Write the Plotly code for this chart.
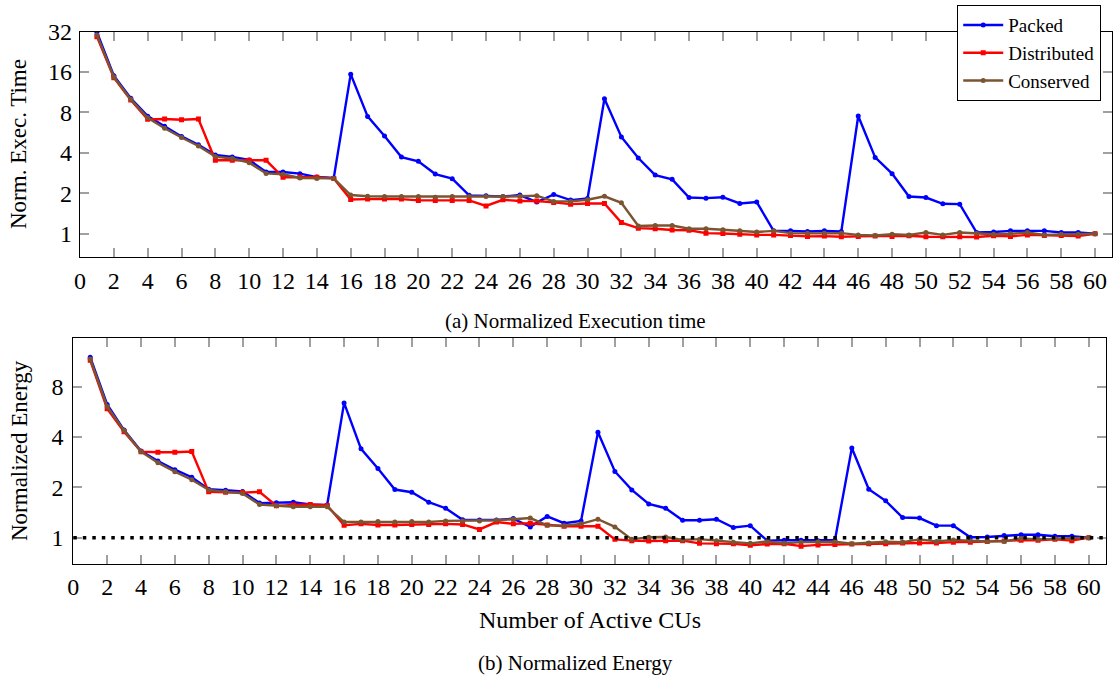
import plotly.graph_objects as go

# Number of active CUs
cus = list(range(1, 61))

# Normalized execution time
time_packed = [31.6, 15.0, 10.2, 7.5, 6.3, 5.3, 4.6, 3.85, 3.72, 3.54,
               2.88, 2.88, 2.80, 2.64, 2.60, 15.4, 7.47, 5.34, 3.72, 3.46,
               2.78, 2.57, 1.93, 1.92, 1.89, 1.94, 1.72, 1.96, 1.78, 1.83,
               10.1, 5.25, 3.66, 2.73, 2.54, 1.86, 1.84, 1.87, 1.68, 1.72,
               1.05, 1.05, 1.04, 1.05, 1.04, 7.52, 3.70, 2.80, 1.89, 1.86,
               1.67, 1.66, 1.02, 1.03, 1.05, 1.05, 1.05, 1.02, 1.02, 1.00]
time_distributed = [29.3, 14.5, 9.9, 7.1, 7.15, 7.06, 7.15, 3.52, 3.52, 3.52,
                    3.52, 2.63, 2.64, 2.63, 2.58, 1.80, 1.81, 1.81, 1.81, 1.77,
                    1.77, 1.77, 1.77, 1.61, 1.79, 1.75, 1.75, 1.71, 1.66, 1.68,
                    1.68, 1.21, 1.10, 1.09, 1.065, 1.06, 1.01, 1.005, 0.99, 0.98,
                    0.98, 0.97, 0.955, 0.96, 0.95, 0.955, 0.96, 0.955, 0.965, 0.95,
                    0.95, 0.95, 0.945, 0.965, 0.955, 0.98, 0.97, 0.97, 0.96, 1.00]
time_conserved = [30.2, 14.7, 10.0, 7.3, 6.1, 5.2, 4.5, 3.75, 3.63, 3.38,
                  2.81, 2.77, 2.60, 2.58, 2.58, 1.94, 1.90, 1.89, 1.89, 1.89,
                  1.87, 1.89, 1.89, 1.89, 1.89, 1.90, 1.92, 1.74, 1.74, 1.79,
                  1.90, 1.70, 1.14, 1.15, 1.15, 1.09, 1.09, 1.07, 1.05, 1.03,
                  1.05, 1.01, 1.006, 1.006, 1.01, 0.98, 0.97, 0.99, 0.98, 1.02,
                  0.98, 1.02, 1.006, 0.99, 1.00, 1.02, 0.98, 0.99, 0.99, 1.00]

# Normalized energy
energy_packed = [12.0, 6.27, 4.4, 3.3, 2.87, 2.55, 2.30, 1.95, 1.92, 1.89,
                 1.61, 1.62, 1.63, 1.58, 1.57, 6.4, 3.4, 2.59, 1.94, 1.87,
                 1.63, 1.50, 1.28, 1.275, 1.275, 1.30, 1.16, 1.34, 1.22, 1.26,
                 4.27, 2.49, 1.93, 1.59, 1.50, 1.27, 1.27, 1.29, 1.15, 1.18,
                 0.96, 0.965, 0.965, 0.96, 0.965, 3.44, 1.95, 1.66, 1.32, 1.31,
                 1.18, 1.18, 1.005, 1.01, 1.03, 1.04, 1.04, 1.02, 1.02, 1.00]
energy_distributed = [11.5, 5.9, 4.3, 3.27, 3.24, 3.24, 3.28, 1.88, 1.87, 1.86,
                      1.88, 1.55, 1.57, 1.58, 1.56, 1.185, 1.21, 1.19, 1.19, 1.20,
                      1.20, 1.21, 1.20, 1.12, 1.24, 1.21, 1.22, 1.19, 1.17, 1.17,
                      1.17, 0.977, 0.96, 0.955, 0.96, 0.96, 0.925, 0.92, 0.92, 0.90,
                      0.916, 0.92, 0.89, 0.905, 0.91, 0.916, 0.92, 0.92, 0.93, 0.93,
                      0.93, 0.94, 0.94, 0.95, 0.955, 0.965, 0.965, 0.977, 0.96, 1.00]
energy_conserved = [11.7, 6.1, 4.37, 3.27, 2.81, 2.48, 2.22, 1.93, 1.88, 1.84,
                    1.58, 1.55, 1.53, 1.53, 1.53, 1.24, 1.24, 1.25, 1.24, 1.25,
                    1.24, 1.26, 1.26, 1.26, 1.27, 1.29, 1.31, 1.185, 1.18, 1.21,
                    1.29, 1.16, 0.977, 1.005, 1.01, 0.97, 0.98, 0.96, 0.94, 0.925,
                    0.95, 0.925, 0.94, 0.945, 0.945, 0.92, 0.93, 0.945, 0.94, 0.977,
                    0.95, 0.97, 0.96, 0.95, 0.95, 0.99, 0.977, 0.986, 0.99, 1.00]

x_ticks = list(range(0, 61, 2))
time_ticks = [1, 2, 4, 8, 16, 32]
energy_ticks = [1, 2, 4, 8]

BLUE = "#0000ff"
RED = "#ff0000"
BROWN = "#7a5530"
FONT = "Liberation Serif"
W, H = 1115, 679

series = [
    ("Packed", BLUE, "circle", 5, time_packed, energy_packed),
    ("Distributed", RED, "square", 5, time_distributed, energy_distributed),
    ("Conserved", BROWN, "circle", 5, time_conserved, energy_conserved),
]

fig = go.Figure()
for name, color, sym, msize, t_vals, e_vals in series:
    fig.add_trace(go.Scatter(
        x=cus, y=t_vals, name=name, mode="lines+markers",
        line=dict(color=color, width=2.4),
        marker=dict(color=color, symbol=sym, size=msize),
        xaxis="x", yaxis="y", showlegend=True,
    ))
for name, color, sym, msize, t_vals, e_vals in series:
    fig.add_trace(go.Scatter(
        x=cus, y=e_vals, name=name, mode="lines+markers",
        line=dict(color=color, width=2.4),
        marker=dict(color=color, symbol=sym, size=msize),
        xaxis="x2", yaxis="y2", showlegend=False,
    ))


def px_x(v):
    return v / W


def px_y(v):
    return 1 - v / H


axis_common = dict(
    showline=True, linecolor="black", linewidth=1.2, mirror="ticks",
    ticks="inside", ticklen=9, tickwidth=1.5, tickcolor="#a0a0a0",
    showgrid=False, zeroline=False,
    tickfont=dict(family=FONT, size=24, color="black"),
    automargin=False,
)

fig.update_layout(
    width=W, height=H,
    margin=dict(l=0, r=0, t=0, b=0),
    paper_bgcolor="white", plot_bgcolor="white",
    font=dict(family=FONT, color="black"),
    xaxis=dict(axis_common, domain=[px_x(80), px_x(1112)], range=[0, 61],
               tickvals=x_ticks, anchor="y", ticklabelstandoff=2),
    yaxis=dict(axis_common, domain=[px_y(257), px_y(31.5)], type="log",
               range=[-0.1733, 1.50515], tickvals=time_ticks,
               ticktext=[str(t) for t in time_ticks], anchor="x",
               ticklabelstandoff=2),
    xaxis2=dict(axis_common, domain=[px_x(73.3), px_x(1105.7)], range=[0, 61],
                tickvals=x_ticks, anchor="y2", ticklabelstandoff=1),
    yaxis2=dict(axis_common, domain=[px_y(564.3), px_y(338.3)], type="log",
                range=[-0.1593, 1.1926], tickvals=energy_ticks,
                ticktext=[str(t) for t in energy_ticks], anchor="x2",
                ticklabelstandoff=4),
    legend=dict(
        x=px_x(957), y=px_y(5), xanchor="left", yanchor="top",
        bgcolor="white", bordercolor="black", borderwidth=1.2,
        font=dict(family=FONT, size=19, color="black"),
        itemwidth=40, tracegroupgap=0,
    ),
    showlegend=True,
)

# Reference level in the energy panel
fig.add_shape(type="line", xref="x2 domain", yref="y2", x0=0, x1=1, y0=1, y1=1,
              line=dict(color="black", width=3.5, dash="3.5px,6px"), layer="above")

annotations = [
    dict(text="Norm. Exec. Time", x=px_x(18), y=px_y(144), textangle=-90,
         font=dict(size=23)),
    dict(text="(a) Normalized Execution time", x=px_x(575), y=px_y(321),
         font=dict(size=21)),
    dict(text="Normalized Energy", x=px_x(19), y=px_y(451), textangle=-90,
         font=dict(size=23)),
    dict(text="Number of Active CUs", x=px_x(589.5), y=px_y(620),
         font=dict(size=24)),
    dict(text="(b) Normalized Energy", x=px_x(575), y=px_y(663),
         font=dict(size=21)),
]
for a in annotations:
    a.update(xref="paper", yref="paper", showarrow=False,
             xanchor="center", yanchor="middle")
    a["font"].update(family=FONT, color="black")
    fig.add_annotation(**a)

fig.write_html("out.html")
